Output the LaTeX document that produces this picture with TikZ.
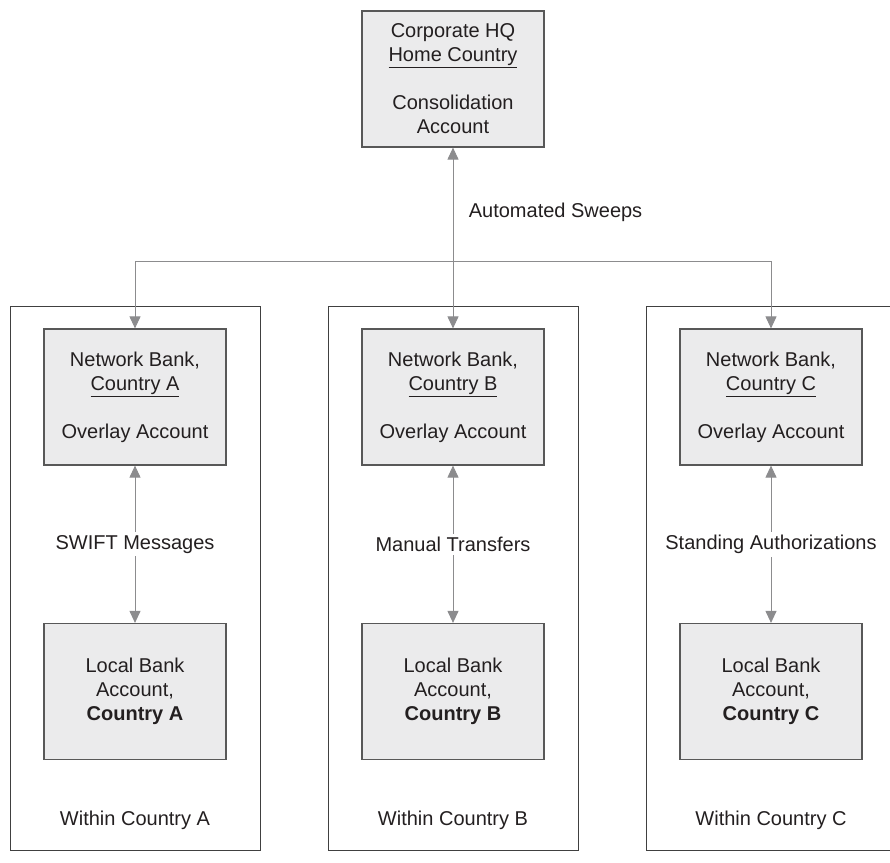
\documentclass[tikz,border=0pt]{standalone}
\usepackage{fontspec}
\setmainfont{Liberation Sans}
\usetikzlibrary{arrows.meta,positioning}
\definecolor{boxfill}{HTML}{EBEBEC}
\definecolor{boxline}{HTML}{585858}
\definecolor{linkgray}{HTML}{8C8C8E}
\definecolor{inkgray}{HTML}{231F20}
\tikzset{
  account/.style={draw=boxline, line width=1.2pt, fill=boxfill, minimum width=182pt, minimum height=136pt, align=center},
  region/.style={draw=black!75, line width=1pt, minimum width=250pt, minimum height=544pt},
  flow/.style={draw=linkgray, line width=1pt, {Triangle[length=12pt,width=11pt]}-{Triangle[length=12pt,width=11pt]}},
  tag/.style={fill=white, inner sep=3pt},
}
\begin{document}
\begin{tikzpicture}[x=1pt, y=-1pt, text=inkgray, font=\fontsize{20}{24}\selectfont]
\clip (0,0) rectangle (890,862);
\node[account] (hq) at (453,79) {Corporate HQ\\\underline{Home Country}\\[24pt]Consolidation\\Account};
% one column per country
\foreach \c/\x/\how in {A/135/SWIFT Messages, B/453/Manual Transfers, C/771/Standing Authorizations}{
  \node[region] (frame\c) at (\x,578) {};
  \node[account] (net\c) at (\x,397) {Network Bank,\\\underline{Country \c}\\[24pt]Overlay Account};
  \node[account] (local\c) at (\x,691.5) {Local Bank\\Account,\\\textbf{Country \c}};
  \node (within\c) at (\x,820) {Within Country \c};
  \draw[flow] (net\c) -- node[tag] {\how} (local\c);
}
\coordinate (bus) at (135,261);
\draw[flow] (netA) -- (bus) -| (netC);
\draw[flow] (hq) -- node[pos=0.36, right=12pt] {Automated Sweeps} (netB);
\end{tikzpicture}
\end{document}
